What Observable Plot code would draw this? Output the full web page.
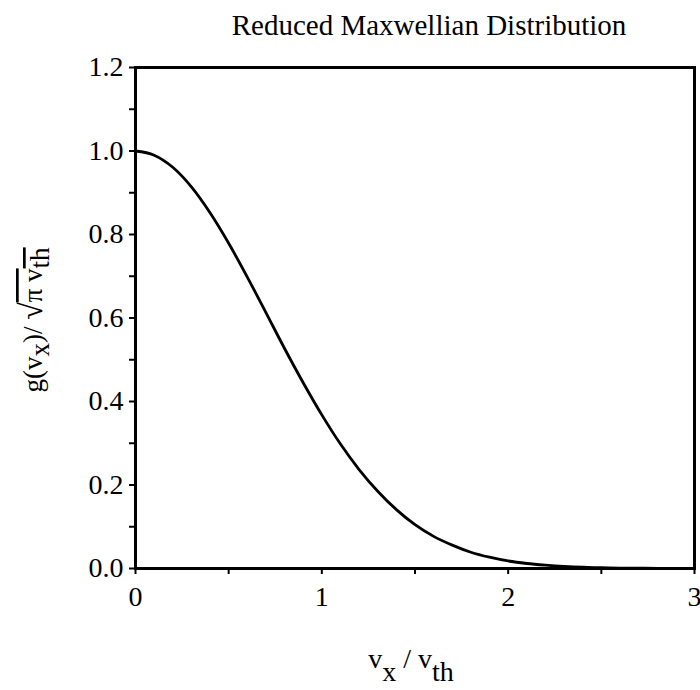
<!DOCTYPE html>
<html>
<head>
<meta charset="utf-8">
<script src="https://cdn.jsdelivr.net/npm/d3@7"></script>
<script src="https://cdn.jsdelivr.net/npm/@observablehq/plot@0.6"></script>
<style>
  html, body { margin: 0; padding: 0; background: white; }
  #chart svg { display: block; }
</style>
</head>
<body>
<div id="chart"></div>
<script>
// Values
const vRatio = [0, 0.1, 0.2, 0.3, 0.4, 0.5, 0.6, 0.7, 0.8, 0.9, 1.0, 1.1, 1.2, 1.3, 1.4, 1.5,
                1.6, 1.7, 1.8, 1.9, 2.0, 2.1, 2.2, 2.3, 2.4, 2.5, 2.6, 2.7, 2.8, 2.9, 3.0];
const gNorm = [1.0, 0.990, 0.961, 0.914, 0.852, 0.779, 0.698, 0.613, 0.527, 0.445, 0.368, 0.298,
               0.237, 0.185, 0.141, 0.105, 0.077, 0.056, 0.039, 0.027, 0.018, 0.012, 0.008,
               0.005, 0.003, 0.002, 0.001, 0.0007, 0.0004, 0.0002, 0.0001];
const xMajorTicks = [0, 1, 2, 3];
const xMinorTicks = [0.5, 1.5, 2.5];
const yMajorTicks = [0, 0.2, 0.4, 0.6, 0.8, 1.0, 1.2];
const yMinorTicks = [0.1, 0.3, 0.5, 0.7, 0.9, 1.1];
const titleText = "Reduced Maxwellian Distribution";

const data = vRatio.map((x, i) => ({x, y: gNorm[i]}));
const serif = "'Liberation Serif', 'DejaVu Serif', serif";

const chart = Plot.plot({
  width: 700,
  height: 690,
  marginLeft: 135,
  marginRight: 6,
  marginTop: 67,
  marginBottom: 122,
  x: {domain: [0, 3]},
  y: {domain: [0, 1.2]},
  style: {fontFamily: serif, fontSize: "28px", color: "black", background: "white"},
  marks: [
    Plot.axisX(xMajorTicks, {tickSize: 6, tickPadding: 12, tickFormat: d => String(d), label: null, strokeWidth: 2, fontSize: 28}),
    Plot.axisX(xMinorTicks, {tickSize: 6, text: null, label: null, strokeWidth: 2}),
    Plot.axisY(yMajorTicks, {tickSize: 6, tickPadding: 6, tickFormat: d3.format(".1f"), label: null, strokeWidth: 2, fontSize: 28}),
    Plot.axisY(yMinorTicks, {tickSize: 6, text: null, label: null, strokeWidth: 2}),
    Plot.line(data, {x: "x", y: "y", curve: "monotone-x", strokeWidth: 2.8, stroke: "black"}),
    Plot.frame({strokeWidth: 3, stroke: "black"})
  ]
});

document.getElementById("chart").appendChild(chart);

const svg = d3.select(chart);

// Title
svg.append("text")
  .attr("x", 429).attr("y", 35)
  .attr("text-anchor", "middle")
  .style("font-family", serif).style("font-size", "29px").attr("fill", "black")
  .text(titleText);

// X label: v_x / v_th
const xl = svg.append("text")
  .attr("x", 411).attr("y", 668)
  .attr("text-anchor", "middle")
  .style("font-family", serif).style("font-size", "28px").attr("fill", "black");
xl.append("tspan").text("v");
xl.append("tspan").attr("dy", 13).text("x");
xl.append("tspan").attr("dy", -13).text(" / v");
xl.append("tspan").attr("dy", 13).text("th");

// Y label: g(v_x)/ sqrt(pi v_th)
const yl = svg.append("text")
  .attr("transform", "translate(42,320) rotate(-90)")
  .attr("text-anchor", "middle")
  .style("font-family", serif).style("font-size", "27px").attr("fill", "black");
yl.append("tspan").text("g(v");
yl.append("tspan").attr("dy", 7).text("x");
yl.append("tspan").attr("dy", -7).text(")/ ");
yl.append("tspan").style("font-size", "32px").text("√");
yl.append("tspan").style("text-decoration", "overline").text("π v");
yl.append("tspan").attr("dy", 7).style("text-decoration", "overline").text("th");
</script>
</body>
</html>
